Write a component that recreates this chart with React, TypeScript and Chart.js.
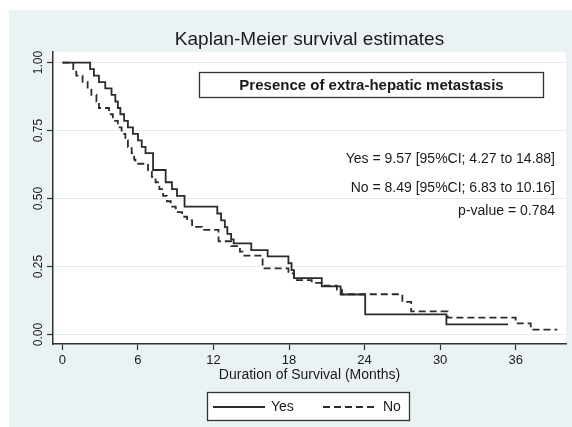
import React, { useEffect, useRef } from 'react';
import { Chart, registerables } from 'chart.js';

Chart.register(...registerables);

// ---------------- data ----------------
const seriesLabels = ['Yes', 'No'];

const yesTimes = [0, 2.2, 2.5, 2.9, 3.4, 3.9, 4.2, 4.4, 4.6, 4.9, 5.2, 5.6, 6.0, 6.3, 6.6, 7.2, 8.2, 8.7, 9.1, 9.7, 12.3, 12.6, 12.9, 13.1, 13.4, 13.6, 15.0, 16.3, 17.95, 18.2, 18.4, 20.6, 22.1, 24.05, 30.5, 35.4];
const yesSurv = [1.0, 0.976, 0.952, 0.928, 0.905, 0.881, 0.857, 0.833, 0.81, 0.786, 0.762, 0.738, 0.714, 0.69, 0.667, 0.605, 0.56, 0.535, 0.51, 0.47, 0.445, 0.42, 0.395, 0.37, 0.35, 0.335, 0.31, 0.287, 0.262, 0.237, 0.207, 0.177, 0.147, 0.074, 0.037, 0.037];

const noTimes = [0, 0.86, 1.1, 1.6, 2.0, 2.3, 2.7, 2.9, 3.7, 4.0, 4.4, 4.7, 5.0, 5.2, 5.5, 5.7, 5.8, 6.8, 7.1, 7.4, 7.7, 8.0, 8.3, 8.6, 9.0, 9.5, 9.9, 10.3, 11.1, 12.4, 13.4, 14.1, 14.3, 15.9, 17.95, 18.4, 19.8, 20.6, 21.8, 22.2, 27.0, 27.7, 30.6, 36.0, 37.2, 39.3];
const noSurv = [1.0, 0.976, 0.952, 0.929, 0.905, 0.881, 0.857, 0.833, 0.81, 0.786, 0.762, 0.738, 0.714, 0.69, 0.667, 0.643, 0.628, 0.6, 0.58, 0.56, 0.535, 0.51, 0.49, 0.47, 0.45, 0.433, 0.42, 0.396, 0.385, 0.343, 0.325, 0.305, 0.29, 0.243, 0.225, 0.2, 0.19, 0.18, 0.165, 0.148, 0.12, 0.085, 0.062, 0.041, 0.018, 0.018];

const xTicks = [0, 6, 12, 18, 24, 30, 36];
const yTicks = [0, 0.25, 0.5, 0.75, 1.0];

const chartTitle = 'Kaplan-Meier survival estimates';
const xAxisTitle = 'Duration of Survival (Months)';
const legendTitle = 'Presence of extra-hepatic metastasis';
const annotationLines = [
  'Yes = 9.57 [95%CI; 4.27 to 14.88]',
  'No = 8.49 [95%CI; 6.83 to 10.16]',
  'p-value = 0.784',
];

// ---------------- styles ----------------
const FONT = '"Liberation Sans", Arial, Helvetica, sans-serif';
const TEXT = '#1a1a1a';
const LINE = '#2b2b2b';
const OUTER_BG = '#eaf2f3';
const GRID = '#e3ebed';

const bgPlugin = {
  id: 'stataBg',
  beforeDraw(chart: any) {
    const { ctx, width, height, chartArea } = chart;
    ctx.save();
    ctx.fillStyle = '#ffffff';
    ctx.fillRect(0, 0, width, height);
    ctx.fillStyle = OUTER_BG;
    ctx.fillRect(9, 10, width - 9, height - 10);
    ctx.fillStyle = '#ffffff';
    ctx.fillRect(chartArea.left, chartArea.top, chartArea.right - chartArea.left, chartArea.bottom - chartArea.top);
    ctx.restore();
  },
};

const annotPlugin = {
  id: 'annot',
  afterDatasetsDraw(chart: any) {
    const { ctx } = chart;
    ctx.save();
    // legend title box inside plot
    ctx.fillStyle = '#ffffff';
    ctx.fillRect(199.5, 72.5, 344, 25);
    ctx.strokeStyle = '#333333';
    ctx.lineWidth = 1.3;
    ctx.strokeRect(199.5, 72.5, 344, 25);
    ctx.fillStyle = TEXT;
    ctx.font = `bold 15px ${FONT}`;
    ctx.textAlign = 'center';
    ctx.textBaseline = 'middle';
    ctx.fillText(legendTitle, 371.5, 85.5);
    // annotation text
    ctx.font = `14px ${FONT}`;
    ctx.textAlign = 'right';
    const ys = [159.5, 188, 211.5];
    annotationLines.forEach((t, i) => ctx.fillText(t, 555, ys[i]));
    ctx.restore();
  },
};

const legendPlugin = {
  id: 'bottomLegend',
  afterDraw(chart: any) {
    const { ctx } = chart;
    const ds = chart.data.datasets;
    ctx.save();
    ctx.fillStyle = '#ffffff';
    ctx.fillRect(207.5, 392.5, 202, 28);
    ctx.strokeStyle = '#333333';
    ctx.lineWidth = 1.3;
    ctx.strokeRect(207.5, 392.5, 202, 28);
    const y = 407;
    const items = [
      { x0: 213, x1: 265, tx: 271 },
      { x0: 323, x1: 377, tx: 383 },
    ];
    items.forEach((it, i) => {
      ctx.strokeStyle = ds[i].borderColor;
      ctx.lineWidth = ds[i].borderWidth;
      ctx.setLineDash(ds[i].borderDash || []);
      ctx.beginPath();
      ctx.moveTo(it.x0, y);
      ctx.lineTo(it.x1, y);
      ctx.stroke();
      ctx.setLineDash([]);
      ctx.fillStyle = TEXT;
      ctx.font = `14px ${FONT}`;
      ctx.textAlign = 'left';
      ctx.textBaseline = 'middle';
      ctx.fillText(ds[i].label, it.tx, y);
    });
    ctx.restore();
  },
};

export default function App() {
  const ref = useRef<HTMLCanvasElement | null>(null);

  useEffect(() => {
    if (!ref.current) return;
    const yesData = yesTimes.map((t, i) => ({ x: t, y: yesSurv[i] }));
    const noData = noTimes.map((t, i) => ({ x: t, y: noSurv[i] }));
    const chart = new Chart(ref.current, {
      type: 'line',
      data: {
        datasets: [
          {
            label: seriesLabels[0],
            data: yesData,
            stepped: 'before',
            borderColor: LINE,
            borderWidth: 1.8,
            pointRadius: 0,
            fill: false,
            borderDash: [],
          },
          {
            label: seriesLabels[1],
            data: noData,
            stepped: 'before',
            borderColor: LINE,
            borderWidth: 1.8,
            pointRadius: 0,
            fill: false,
            borderDash: [7, 4],
          },
        ],
      },
      options: {
        responsive: false,
        animation: false,
        events: [],
        layout: { padding: { left: 0, right: 6, top: 0, bottom: 41 } },
        plugins: {
          legend: { display: false },
          tooltip: { enabled: false },
          title: {
            display: true,
            text: chartTitle,
            fullSize: false,
            color: TEXT,
            font: { family: FONT, size: 19, weight: 'normal' },
            padding: { top: 28, bottom: 1.2 },
          },
        },
        scales: {
          x: {
            type: 'linear',
            min: -0.75,
            max: 40,
            afterBuildTicks: (s: any) => {
              s.ticks = xTicks.map((v) => ({ value: v }));
            },
            afterFit: (s: any) => {
              s.height = 42;
            },
            grid: {
              display: true,
              drawOnChartArea: false,
              drawTicks: true,
              tickLength: 6,
              tickColor: '#333333',
              tickWidth: 1.2,
            },
            border: { display: true, color: '#333333', width: 1.5 },
            ticks: {
              color: TEXT,
              font: { family: FONT, size: 13 },
              padding: 3,
              maxRotation: 0,
              autoSkip: false,
              callback: (v: any) => String(v),
            },
            title: {
              display: true,
              text: xAxisTitle,
              color: TEXT,
              font: { family: FONT, size: 14 },
              padding: { top: 0, bottom: 2 },
            },
          },
          y: {
            type: 'linear',
            min: -0.035,
            max: 1.039,
            afterBuildTicks: (s: any) => {
              s.ticks = yTicks.map((v) => ({ value: v }));
            },
            afterFit: (s: any) => {
              s.width = 53;
            },
            grid: {
              color: GRID,
              lineWidth: 1,
              tickColor: '#333333',
              tickLength: 6,
              tickWidth: 1.2,
            },
            border: { display: true, color: '#333333', width: 1.5 },
            ticks: {
              color: TEXT,
              font: { family: FONT, size: 12 },
              minRotation: 90,
              maxRotation: 90,
              crossAlign: 'center',
              padding: -3,
              callback: (v: any) => Number(v).toFixed(2),
            },
          },
        },
      },
      plugins: [bgPlugin, annotPlugin, legendPlugin],
    } as any);
    return () => chart.destroy();
  }, []);

  return (
    <div style={{ position: 'absolute', left: 0, top: 0, width: 572, height: 427 }}>
      <canvas ref={ref} width={572} height={427} style={{ display: 'block', width: 572, height: 427 }} />
    </div>
  );
}
